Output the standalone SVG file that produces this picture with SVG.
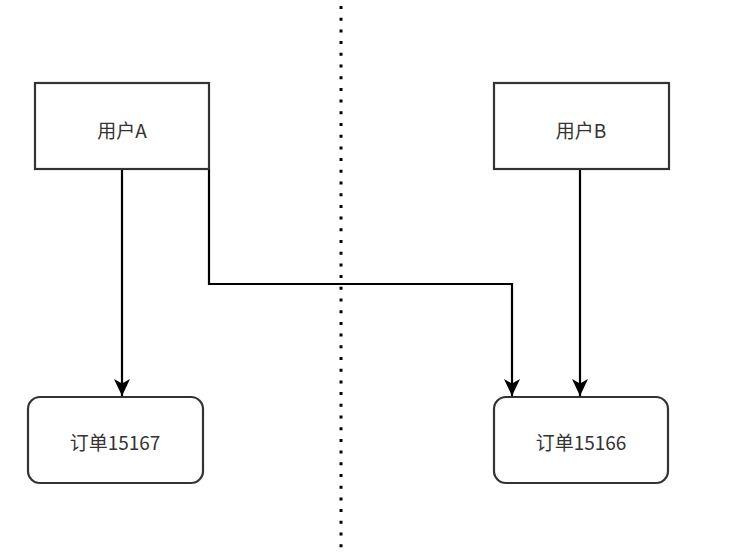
<svg xmlns="http://www.w3.org/2000/svg" width="731" height="558" viewBox="0 0 731 558">
<style>
.box{fill:#fff;stroke:#333;stroke-width:2.2}
.lbl{font-family:"Noto Sans CJK SC","Liberation Sans",sans-serif;font-size:19px;fill:#333;text-anchor:middle;dominant-baseline:central}
.edge{fill:none;stroke:#000;stroke-width:2.2}
</style>
<defs>
<marker id="arr" markerUnits="userSpaceOnUse" markerWidth="20" markerHeight="20" viewBox="0 0 20 20" refX="18" refY="10" orient="auto">
<path d="M1,2 L18,10 L1,18 L5.5,10 Z" fill="#000"/>
</marker>
</defs>
<rect width="731" height="558" fill="#fff"/>
<line x1="341" y1="6" x2="341" y2="548" stroke="#000" stroke-width="3" stroke-dasharray="3 8.7"/>
<g id="connectors">
<path class="edge" d="M122,169 V396" marker-end="url(#arr)"/>
<path class="edge" d="M209,169 V284 H512 V396" marker-end="url(#arr)"/>
<path class="edge" d="M580,169 V396" marker-end="url(#arr)"/>
</g>
<g id="userA"><rect class="box" x="35" y="83" width="174" height="86"/><text class="lbl" x="122" y="129">用户A</text></g>
<g id="userB"><rect class="box" x="494" y="83" width="175" height="86"/><text class="lbl" x="581" y="129">用户B</text></g>
<g id="order15167"><rect class="box" x="28" y="397" width="175" height="86" rx="12"/><text class="lbl" x="115" y="441">订单15167</text></g>
<g id="order15166"><rect class="box" x="494" y="397" width="174" height="86" rx="12"/><text class="lbl" x="581" y="441">订单15166</text></g>
</svg>
